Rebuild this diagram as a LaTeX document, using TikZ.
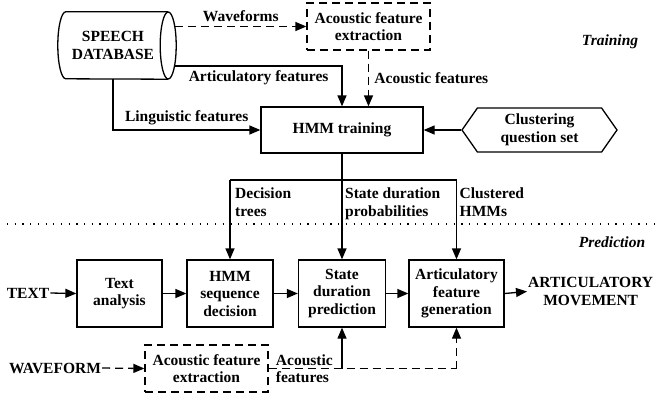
\documentclass[tikz,border=0pt]{standalone}
\usepackage{fontspec}
\setmainfont{Liberation Serif}
\usetikzlibrary{arrows.meta,shapes.symbols}

\begin{document}
\begin{tikzpicture}[x=1bp,y=-1bp,
    font=\fontsize{15.5bp}{17.5bp}\selectfont\bfseries,
    box/.style={draw,line width=1.3bp,align=center,inner sep=1bp},
    dashbox/.style={box,dash pattern=on 8bp off 5bp},
    arr/.style={line width=1.3bp,-{Triangle[length=11bp,width=9bp]}},
    dasharr/.style={arr,dash pattern=on 8bp off 5bp},
    lbl/.style={align=left,inner sep=0pt,anchor=north west},
    phase/.style={font=\fontsize{15.5bp}{17.5bp}\selectfont\bfseries\itshape}]
    \useasboundingbox (0,0) rectangle (657,398);

    % Entrainement
    \node[align=center, inner sep=0pt, minimum width=110bp, minimum height=67bp] (db) at (113,45.5) {SPEECH\\DATABASE};
    \draw[line width=1.3bp] (db.east) ellipse[x radius=8bp, y radius=33.5bp];
    \draw[line width=1.3bp] (db.north east) -- ([xshift=8bp]db.north west)
        arc[start angle=90, end angle=270, x radius=8bp, y radius=33.5bp] -- (db.south east);
    \coordinate (dbr) at ([xshift=8bp]db.east);

    \node[dashbox, minimum width=123bp, minimum height=47bp] (afe1) at (368.5,26.5) {Acoustic feature\\extraction};
    \node[box, minimum width=162bp, minimum height=46bp] (hmmt) at (342,130) {HMM training};
    \node[box, signal, signal to=west and east, signal pointer angle=110,
          minimum width=155bp, minimum height=44bp] (cqs) at (539.5,130) {Clustering\\question set};
    \node[phase] (train) at (610,42) {Training};

    \coordinate (art) at (dbr |- 0,66);
    \coordinate (split) at (hmmt.south |- 0,180);

    \draw[dasharr] ([xshift=-1bp]afe1.west -| dbr) -- node[above=1bp] {Waveforms} (afe1.west);
    \draw[arr] ([xshift=-1bp]art) -- node[below=1bp] {Articulatory features} (art -| hmmt.north) -- (hmmt.north);
    \draw[dasharr] (afe1.south) -- node[right=2bp] {Acoustic features} (afe1.south |- hmmt.north);
    \draw[arr] (db.south) |- node[pos=0.75,above=1bp] {Linguistic features} (hmmt.west);
    \draw[arr] (cqs.west) -- (hmmt.east);

    % Separation
    \draw[line width=1.2bp, dash pattern=on 1.2bp off 6.5bp] (7,224) -- (657,224);
    \node[phase] (pred) at (612,242) {Prediction};

    % Prediction
    \node[box, minimum width=85bp, minimum height=67bp] (ta) at (119.5,293.5) {Text\\analysis};
    \node[box, minimum width=86bp, minimum height=67bp] (hsd) at (230,293.5) {HMM\\sequence\\decision};
    \node[box, minimum width=87bp, minimum height=67bp] (sdp) at (342,293.5) {State\\duration\\prediction};
    \node[box, minimum width=95bp, minimum height=67bp] (afg) at (456.5,293.5) {Articulatory\\feature\\generation};
    \node[inner sep=1bp] (txt) at (28,293) {TEXT};
    \node[align=center, inner sep=1bp, anchor=west] (move) at (527,291.5) {ARTICULATORY\\MOVEMENT};
    \node[inner sep=1bp] (wave) at (55,368) {WAVEFORM};
    \node[dashbox, minimum width=123bp, minimum height=47bp] (afe2) at (206.5,368.5) {Acoustic feature\\extraction};

    \draw[line width=1.3bp] (hmmt.south) -- (split);
    \draw[line width=1.3bp] (split -| hsd.north) -- (split -| afg.north);
    \draw[arr] (split -| hsd.north) -- (hsd.north);
    \draw[arr] (split) -- (sdp.north);
    \draw[arr] (split -| afg.north) -- (afg.north);
    \node[lbl] (dt) at ([xshift=5bp,yshift=-8bp]split -| hsd.north) {Decision\\trees};
    \node[lbl] (sdpr) at ([xshift=3bp,yshift=-8bp]split) {State duration\\probabilities};
    \node[lbl] (chmm) at ([xshift=3bp,yshift=-8bp]split -| afg.north) {Clustered\\HMMs};

    \draw[arr] (txt.east) -- (ta.west);
    \draw[arr] (ta.east) -- (hsd.west);
    \draw[arr] (hsd.east) -- (sdp.west);
    \draw[arr] (sdp.east) -- (afg.west);
    \draw[arr] (afg.east) -- (move.west);

    \draw[dasharr] (wave.east) -- (afe2.west);
    \draw[line width=1.3bp, dash pattern=on 8bp off 5bp] (afe2.east) -- node[pos=0.19, align=left] {Acoustic\\features} (afe2.east -| afg.south);
    \draw[arr] (afe2.east -| sdp.south) -- (sdp.south);
    \draw[dasharr] (afe2.east -| afg.south) -- (afg.south);
\end{tikzpicture}
\end{document}
